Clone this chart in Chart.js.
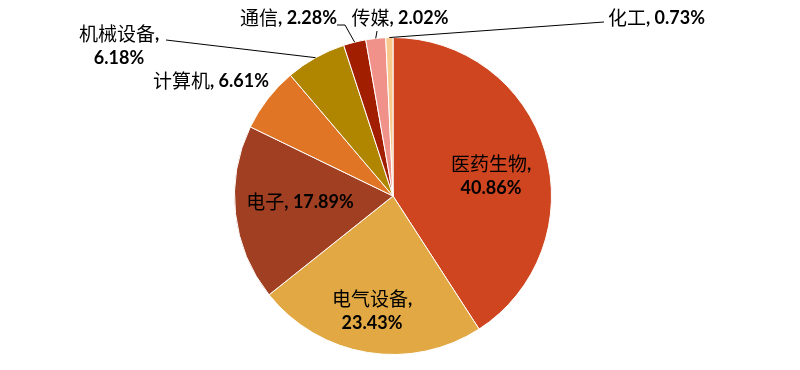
<!DOCTYPE html>
<html>
<head>
<meta charset="utf-8">
<script src="https://cdn.jsdelivr.net/npm/chart.js@4"></script>
<style>
  body { margin: 0; background: #fff; }
  #box { width: 800px; height: 370px; }
</style>
</head>
<body>
<div id="box"><canvas id="pieChart"></canvas></div>
<script>
const categories = ["医药生物", "电气设备", "电子", "计算机", "机械设备", "通信", "传媒", "化工"];
const shares = [40.86, 23.43, 17.89, 6.61, 6.18, 2.28, 2.02, 0.73];
const colors = ["#CF4520", "#E2A843", "#A03F22", "#E07525", "#B08500", "#A21E00", "#F0928A", "#F9C88C"];

// label placement relative to pie centre: [dx, dy, align, twoLines, leader]
const labelPos = [
  [98, -20, "center", true, false],
  [-21, 115, "center", true, false],
  [-93, 6, "center", false, false],
  [-182, -115, "center", false, false],
  [-274, -150, "center", true, true],
  [-56, -178, "right", false, true],
  [7, -178, "center", false, true],
  [215, -178, "left", false, true]
];
// leader bends, relative to pie centre
const leaderEnds = [null, null, null, null, [[-227, -156]], [[-48, -171], [-56, -171]], [[-16, -165]], [[211, -174]]];

const cjkFont = "19px 'Noto Sans CJK SC'";
const latFont = "bold 18px Lato, 'Noto Sans CJK SC'";

function runs(str) {
  return str.split(/([\u4e00-\u9fff]+)/).filter(s => s.length).map(s => ({
    s, font: /[\u4e00-\u9fff]/.test(s) ? cjkFont : latFont
  }));
}

function drawLine(ctx, str, x, y, align) {
  const parts = runs(str);
  let total = 0;
  parts.forEach(p => { ctx.font = p.font; p.w = ctx.measureText(p.s).width; total += p.w; });
  let start = align === "left" ? x : align === "right" ? x - total : x - total / 2;
  parts.forEach(p => {
    ctx.font = p.font;
    ctx.fillText(p.s, start, y);
    start += p.w;
  });
}

const labelPlugin = {
  id: "pieLabels",
  afterDatasetsDraw(chart) {
    const ctx = chart.ctx;
    const arcs = chart.getDatasetMeta(0).data;
    const cx = arcs[0].x, cy = arcs[0].y;
    ctx.save();
    ctx.fillStyle = "#000";
    ctx.textAlign = "left";
    ctx.textBaseline = "middle";
    arcs.forEach((arc, i) => {
      const [dx, dy, align, two, leader] = labelPos[i];
      const pct = shares[i].toFixed(2) + "%";
      if (leader) {
        const mid = (arc.startAngle + arc.endAngle) / 2;
        ctx.strokeStyle = "#000";
        ctx.lineWidth = 1;
        ctx.beginPath();
        ctx.moveTo(cx + Math.cos(mid) * arc.outerRadius, cy + Math.sin(mid) * arc.outerRadius);
        leaderEnds[i].forEach(p => ctx.lineTo(cx + p[0], cy + p[1]));
        ctx.stroke();
      }
      if (two) {
        drawLine(ctx, categories[i] + ",", cx + dx, cy + dy - 12, align);
        drawLine(ctx, pct, cx + dx, cy + dy + 12, align);
      } else {
        drawLine(ctx, categories[i] + ", " + pct, cx + dx, cy + dy, align);
      }
    });
    ctx.restore();
  }
};

new Chart(document.getElementById("pieChart").getContext("2d"), {
  type: "pie",
  data: {
    labels: categories,
    datasets: [{
      data: shares,
      backgroundColor: colors,
      borderColor: "#ffffff",
      borderWidth: 1
    }]
  },
  options: {
    responsive: true,
    maintainAspectRatio: false,
    animation: false,
    layout: { padding: { top: 37, bottom: 15, left: 0, right: 14 } },
    plugins: {
      legend: { display: false },
      tooltip: { enabled: false }
    }
  },
  plugins: [labelPlugin]
});
</script>
</body>
</html>
